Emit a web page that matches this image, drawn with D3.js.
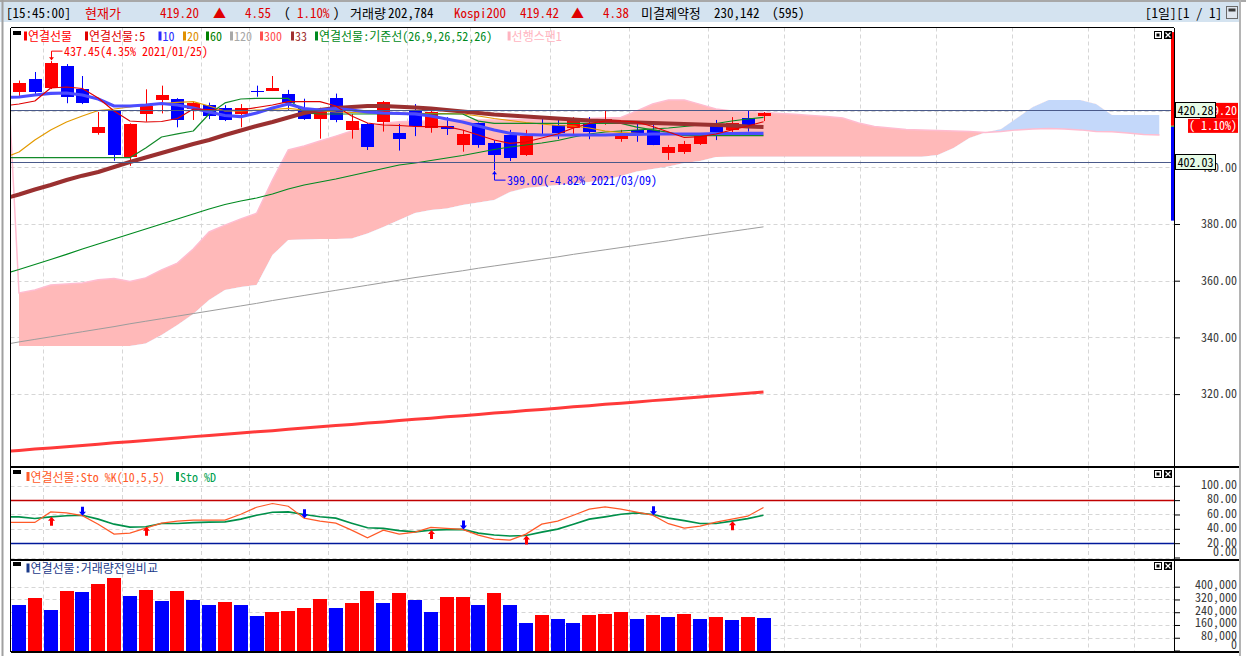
<!DOCTYPE html>
<html>
<head>
<meta charset="utf-8">
<script src="https://cdn.jsdelivr.net/npm/d3@7/dist/d3.min.js"></script>
<style>
html,body{margin:0;padding:0;background:#fff;overflow:hidden;}
svg{display:block;}
text{font-family:"Noto Sans Mono CJK KR","DejaVu Sans Mono","Noto Sans CJK KR",monospace;}
</style>
</head>
<body>
<svg id="chart" width="1246" height="656"></svg>
<script>
// ================= DATA =================
// daily candles, index 0..47
const candleOpen  = [426.67,431.15,427.97,435.73,427.6,412.2,419.9,403.5,418.9,423.7,424.1,420.8,422.0,420.9,418.9,426.9,427.0,426.0,420.9,417.0,424.4,413.1,415.3,416.0,412.0,419.9,414.0,414.6,407.9,415.6,408.6,411.4,404.3,415.8,414.9,413.8,415.6,415.6,410.0,413.2,413.2,405.0,405.5,408.2,414.9,413.2,417.4,418.1];
const candleHigh  = [430.6,433.62,437.45,436.4,432.2,419.5,420.2,415.5,427.5,428.8,424.4,423.2,422.8,421.9,422.3,428.8,432.2,427.3,424.2,421.0,426.0,418.8,415.6,423.4,415.3,422.3,420.2,417.7,413.2,415.8,409.6,413.2,413.2,417.7,417.0,417.7,417.7,419.9,413.2,415.6,414.9,407.9,409.3,412.0,416.7,417.7,419.9,419.5];
const candleLow   = [424.5,425.9,427.6,422.6,422.3,411.5,402.3,400.5,416.1,419.0,414.1,416.7,417.0,416.3,414.1,424.9,426.9,420.2,416.7,410.1,415.9,410.1,406.1,412.6,405.9,411.0,412.2,411.4,405.5,406.9,399.0,402.2,404.0,411.4,410.0,411.4,409.9,415.0,409.0,409.0,407.8,402.6,404.7,407.9,409.6,411.4,412.6,416.3];
const candleClose = [429.84,426.46,436.79,424.9,422.8,414.2,404.3,415.3,421.6,425.5,416.7,422.8,418.1,416.7,421.0,426.6,428.0,423.0,417.0,420.2,416.7,416.3,407.1,423.0,409.9,414.6,419.5,413.5,411.7,407.9,404.3,403.3,411.0,415.4,412.2,416.7,412.6,417.0,411.4,412.2,407.9,407.2,408.2,411.4,412.5,415.6,414.6,419.2];
const volume = [284000,329000,253000,373000,366000,417000,455000,341000,379000,310000,373000,316000,284000,303000,284000,215000,240000,246000,265000,322000,265000,297000,373000,297000,360000,316000,240000,335000,338000,284000,360000,284000,171000,221000,196000,171000,221000,227000,240000,196000,221000,208000,227000,196000,208000,190000,208000,202784];

// moving averages, index -1..47 (first value = day before first visible candle)
const ma5   = [421.62,422.33,423.39,427.97,428.32,427.79,424.44,419.86,416.33,415.98,416.15,417.21,420.56,420.39,420.03,420.21,421.09,421.98,423.14,423.14,423.14,421.62,418.10,415.63,414.92,414.74,414.39,414.32,414.32,413.16,411.39,409.63,408.47,408.92,410.33,411.75,413.86,415.45,416.33,416.33,415.98,414.39,412.45,410.51,410.79,411.75,413.16,414.57,416.08];
const ma10  = [424.62,424.80,425.50,426.10,426.21,425.50,424.09,421.62,421.62,421.98,422.50,421.98,420.92,419.51,418.27,417.85,419.15,420.92,422.33,420.74,420.21,420.74,420.21,419.51,419.15,418.98,418.80,418.10,417.04,415.98,414.57,413.16,411.99,411.57,411.39,411.39,411.39,411.39,411.39,411.57,411.57,411.75,411.75,411.75,411.75,411.92,411.92,411.99,411.99];
const ma20  = [403.28,405.40,409.63,413.16,415.98,418.10,420.03,420.56,421.27,421.98,422.43,422.93,423.14,421.62,419.86,419.86,420.21,420.39,420.81,420.21,419.86,419.51,419.33,419.15,419.05,419.05,419.05,418.98,418.98,418.80,418.10,417.21,416.51,415.80,415.27,414.74,414.57,413.86,412.80,412.27,411.99,411.75,411.57,411.57,411.39,411.39,411.39,411.39,411.39];
const ma60  = [362.36,363.95,365.71,367.48,369.31,371.18,372.95,374.71,376.47,378.24,380.00,381.76,383.53,385.29,386.88,388.11,389.17,390.58,392.35,393.76,394.81,395.87,397.11,398.34,399.58,400.81,401.52,402.40,403.28,404.16,405.22,406.28,407.16,407.87,408.57,409.45,410.69,411.75,412.45,412.80,413.16,413.51,413.86,414.39,414.92,415.45,416.33,417.04,417.64];
const ma120 = [337.4,338.4,339.3,340.2,341.1,342.0,342.9,343.8,344.8,345.7,346.6,347.5,348.4,349.3,350.2,351.1,352.0,353.0,353.9,354.8,355.7,356.6,357.5,358.4,359.3,360.2,361.1,361.9,362.7,363.5,364.4,365.2,366.0,366.8,367.6,368.4,369.3,370.1,370.9,371.7,372.5,373.3,374.1,375.0,375.8,376.6,377.4,378.2,379.0];
const ma300 = [299.7,300.1,300.6,301.0,301.4,301.9,302.3,302.8,303.2,303.6,304.1,304.5,305.0,305.4,305.8,306.3,306.7,307.1,307.6,308.0,308.5,308.9,309.3,309.8,310.2,310.7,311.1,311.5,312.0,312.4,312.8,313.3,313.7,314.2,314.6,315.0,315.5,315.9,316.4,316.8,317.2,317.7,318.1,318.5,319.0,319.4,319.9,320.3,320.7];
const ma33  = [388.82,390.41,392.17,393.76,395.52,397.04,398.34,400.10,401.87,403.46,405.04,406.63,408.22,409.63,411.39,412.98,414.57,415.98,417.57,419.15,420.21,420.92,421.27,421.62,421.62,421.37,421.09,420.74,420.21,419.68,419.15,418.62,418.27,417.92,417.57,417.21,416.86,416.51,416.33,415.98,415.80,415.63,415.45,415.27,415.10,414.92,414.74,414.39,414.22];
const kijun = [403.4,403.4,403.4,403.4,403.4,403.4,403.4,403.4,403.4,406.8,410.7,411.8,412.8,418.8,422.7,424.1,424.3,424.3,424.3,419.2,418.8,418.8,418.8,418.8,418.8,418.8,418.8,418.8,418.8,418.8,416.3,415.5,415.5,415.5,415.5,415.5,415.5,415.5,415.5,415.5,414.2,413.2,412.3,411.2,411.2,411.2,411.2,411.2,411.2];

// ichimoku leading spans, index -1..72 (26-day forward shift)
const spanA = [465.0,355.7,356.7,358.5,358.8,359.2,360.3,360.8,359.7,361.0,363.8,366.2,371.2,377.2,379.6,381.8,383.8,395.5,406.1,407.5,409.3,411.0,412.8,414.3,415.5,416.1,416.2,416.3,416.5,416.7,416.7,416.7,416.9,416.9,417.0,417.0,417.0,417.2,417.4,417.6,419.9,422.3,423.7,423.7,422.2,420.6,419.9,419.6,419.3,419.0,418.7,418.3,417.9,417.4,415.6,414.4,413.9,413.3,413.2,413.0,412.8,412.6,412.3,412.6,413.2,413.5,413.7,413.5,413.2,412.6,412.5,412.1,411.6,411.4];
const spanB = [336.97,336.97,336.97,336.97,336.97,336.97,336.97,336.97,336.97,337.85,340.85,344.38,348.25,353.19,356.72,357.78,358.48,369.06,374.36,374.53,374.71,374.71,374.88,376.65,378.94,381.41,383.89,384.95,385.47,386.70,387.59,388.47,391.29,392.70,393.23,393.76,394.29,394.81,395.52,396.93,398.52,399.40,400.28,401.52,402.22,403.63,403.74,403.74,403.74,403.74,403.74,403.74,403.74,403.74,403.74,403.74,403.74,403.74,403.74,404.34,406.81,410.33,412.27,413.51,417.39,421.27,423.74,423.74,423.74,422.33,418.45,418.45,418.45,418.45];

// stochastics, index -1..47
const stochK = [48.9,48.9,48.9,63.6,62.2,58.3,46.5,32.6,34.0,41.0,47.9,50.7,52.1,52.1,52.1,60.4,70.1,75.3,71.5,54.9,50.7,47.9,38.2,27.5,38.2,32.6,35.4,41.9,40.6,39.2,31.3,25.7,24.3,32.6,46.5,50.7,59.0,67.4,70.6,67.4,63.2,59.0,47.2,41.0,43.8,49.3,53.5,57.6,69.7];
const stochD = [56.7,56.7,54.4,56.7,58.3,59.0,53.5,46.5,42.4,42.8,47.5,47.5,48.6,49.3,49.7,53.5,59.0,63.2,63.6,60.0,56.9,54.9,47.9,41.4,40.6,37.5,35.8,38.2,38.9,39.2,34.0,31.3,29.9,30.6,35.4,39.6,46.5,53.5,56.7,60.4,62.2,60.0,54.9,51.4,47.5,47.5,50.7,54.2,59.0];
const buySignals  = [2, 8, 26, 32, 45];
const sellSignals = [4, 18, 28, 40];
const stochLevels = [80, 20];

// ticks / reference values
const priceTicks  = [320, 340, 360, 380, 400, 420];
const stochTicks  = [0, 20, 40, 60, 80, 100];
const volumeTicks = [0, 80000, 160000, 240000, 320000, 400000];
const gridIdx     = [1.5, 6.5, 11.5, 14.5, 19.5, 24.5, 28.5, 33.5, 38.5, 43.5, 48.3, 53.1, 57.9, 62.7, 67.5, 70.4];
const refLevels   = [420.28, 402.03];
const currentPrice = 419.20;
const changeText   = "( 1.10%)";
const rangeBar     = [447.7, 414.65, 381.2];
const highNote = {idx: 2,  value: 437.45, pct: "4.35%",  date: "2021/01/25"};
const lowNote  = {idx: 30, value: 399.00, pct: "-4.82%", date: "2021/03/09"};

// texts
const headerTexts  = ["[15:45:00]","현재가","419.20","▲","4.55","(","1.10%",")","거래량","202,784","Kospi200","419.42","▲","4.38","미결제약정","230,142","(595)","[1일][1 / 1]"];
const headerColors = ["#000","#e00000","#e00000","#e00000","#e00000","#000","#e00000","#000","#000","#000","#e00000","#e00000","#e00000","#e00000","#000","#000","#000","#000"];
const mainLegend   = ["연결선물","연결선물:5","10","20","60","120","300","33","연결선물:기준선(26,9,26,52,26)","선행스팬1"];
const mainLegendColors = ["#ff0000","#e00000","#2a2aff","#e09000","#008000","#a8a8a8","#ff5050","#a03030","#008a20","#ffb4c0"];
const stochLegend  = ["연결선물:Sto %K(10,5,5)","Sto %D"];
const stochLegendColors = ["#ff5a28","#00a050"];
const volLegend    = ["연결선물:거래량전일비교"];
const volLegendColors = ["#1a3a8a"];

// ================= LAYOUT =================
const headerX = [6,85,160,213,245,284,297,333,350,388,454,520,571,603,641,714,772,1145];
const mainLegendX = [24,85,158.5,183,206,230,260,291,315,507.6];
const PL = 10.5, PR = 1174;       // plot left / axis x
const mainTop = 27.5, mainBot = 467;
const stTop = 467, stBot = 559.5;
const vTop = 559.5, vBot = 651.5;

const svg = d3.select("#chart");
const xS = d3.scaleLinear().domain([0, 47]).range([19, 763.5]);
const yP = d3.scaleLinear().domain([380, 320]).range([224, 394.1]);
const yS = d3.scaleLinear().domain([0, 100]).range([557.5, 485.8]);
const yV = d3.scaleLinear().domain([0, 400000]).range([650.5, 586.7]);
const RED = "#ff0000", BLUE = "#0000ff";

// ---------- frame ----------
svg.append("rect").attr("width",1246).attr("height",656).attr("fill","#fff");
svg.append("rect").attr("x",0).attr("y",0).attr("width",1240).attr("height",22).attr("fill","#d4e3f0");
svg.append("rect").attr("x",0).attr("y",0).attr("width",1246).attr("height",2).attr("fill","#a8a8a8");
svg.append("rect").attr("x",1.5).attr("y",0).attr("width",2).attr("height",656).attr("fill","#a0a0a0");
svg.append("rect").attr("x",1239).attr("y",0).attr("width",2).attr("height",656).attr("fill","#b4b4b4");

// header text
headerTexts.forEach((t,i)=>{
  svg.append("text").attr("x",headerX[i]).attr("y",18).attr("font-size",13)
    .attr("fill",headerColors[i]).text(t);
});
// header window icon
svg.append("rect").attr("x",1226.5).attr("y",6.5).attr("width",11).attr("height",12).attr("fill","#dfe6ee").attr("stroke","#6a6a6a");
svg.append("rect").attr("x",1228.5).attr("y",8.5).attr("width",7).attr("height",3).attr("fill","#3a3a3a");

// clip paths
const defs = svg.append("defs");
defs.append("clipPath").attr("id","cMain").append("rect").attr("x",PL+0.5).attr("y",mainTop).attr("width",PR-PL-0.5).attr("height",mainBot-mainTop);
defs.append("clipPath").attr("id","cSt").append("rect").attr("x",PL+0.5).attr("y",stTop).attr("width",PR-PL-0.5).attr("height",stBot-stTop);

// ---------- grids ----------
function vGrid(y0,y1){
  svg.append("g").selectAll("line").data(gridIdx).join("line")
    .attr("x1",d=>Math.round(xS(d))+0.5).attr("x2",d=>Math.round(xS(d))+0.5)
    .attr("y1",y0).attr("y2",y1).attr("stroke","#d6d6d6").attr("stroke-dasharray","4,3");
}
function hGrid(vals,scale){
  svg.append("g").selectAll("line").data(vals).join("line")
    .attr("x1",PL).attr("x2",PR).attr("y1",d=>Math.round(scale(d))+0.5).attr("y2",d=>Math.round(scale(d))+0.5)
    .attr("stroke","#d6d6d6").attr("stroke-dasharray","4,3");
}
vGrid(mainTop,mainBot); hGrid(priceTicks,yP);
vGrid(stTop,stBot); hGrid(stochTicks,yS);
vGrid(vTop,vBot); hGrid(volumeTicks.slice(1),yV);

// ---------- main panel ----------
const gMain = svg.append("g").attr("clip-path","url(#cMain)");
const cloudIdx = d3.range(0, spanA.length-1); // indices 0..72
const aOf = i => spanA[i+1], bOf = i => spanB[i+1];
defs.append("clipPath").attr("id","cAbove").append("path")
  .attr("d", d3.area().x(i=>xS(i)).y0(0).y1(i=>yP(bOf(i)))(cloudIdx));
defs.append("clipPath").attr("id","cBelow").append("path")
  .attr("d", d3.area().x(i=>xS(i)).y0(i=>yP(bOf(i))).y1(700)(cloudIdx));
const cloudArea = d3.area().x(i=>xS(i)).y0(i=>yP(aOf(i))).y1(i=>yP(bOf(i)));
gMain.append("path").attr("d",cloudArea(cloudIdx)).attr("fill","#ffb9b9").attr("clip-path","url(#cAbove)");
gMain.append("path").attr("d",cloudArea(cloudIdx)).attr("fill","#c4d8fa").attr("clip-path","url(#cBelow)");
const lineFrom = d3.line().x((d,i)=>xS(i-1)).y(d=>yP(d));
gMain.append("path").attr("d",lineFrom(spanA)).attr("fill","none").attr("stroke","#ffbcd0").attr("stroke-width",1.5);

// candles
const cIdx = d3.range(candleOpen.length);
const cx = i => Math.round(xS(i));
const upC = i => candleClose[i] >= candleOpen[i];
gMain.append("g").selectAll("line").data(cIdx).join("line")
  .attr("x1",i=>cx(i)+0.5).attr("x2",i=>cx(i)+0.5)
  .attr("y1",i=>yP(candleHigh[i])).attr("y2",i=>yP(candleLow[i]))
  .attr("stroke",i=>upC(i)?RED:BLUE).attr("stroke-width",1);
gMain.append("g").selectAll("rect").data(cIdx).join("rect")
  .attr("x",i=>cx(i)-6).attr("width",13)
  .attr("y",i=>Math.round(yP(Math.max(candleOpen[i],candleClose[i]))))
  .attr("height",i=>Math.max(1,Math.round(Math.abs(yP(candleOpen[i])-yP(candleClose[i])))))
  .attr("fill",i=>upC(i)?RED:BLUE).attr("shape-rendering","crispEdges");

// moving averages
const maDefs = [
  [ma300,"#ff3a3a",3],
  [ma120,"#9c9c9c",1],
  [ma60,"#008a20",1.2],
  [ma20,"#e39a00",1.2],
  [kijun,"#138a2a",1.2],
  [ma33,"#9a3030",4],
  [ma10,"#4c4cff",3.2],
  [ma5,"#e00000",1.2]
];
maDefs.forEach(([arr,col,w])=>{
  gMain.append("path").attr("d",lineFrom(arr)).attr("fill","none")
    .attr("stroke",col).attr("stroke-width",w).attr("stroke-linejoin","round");
});

// reference lines
gMain.append("g").selectAll("line").data(refLevels).join("line")
  .attr("x1",PL).attr("x2",PR).attr("y1",d=>Math.round(yP(d))+0.5).attr("y2",d=>Math.round(yP(d))+0.5)
  .attr("stroke","#4a5a8a").attr("stroke-width",1);

// range bar at right edge
svg.append("rect").attr("x",PR-3).attr("width",3).attr("y",yP(rangeBar[0])).attr("height",yP(rangeBar[1])-yP(rangeBar[0])).attr("fill",RED);
svg.append("rect").attr("x",PR-3).attr("width",3).attr("y",yP(rangeBar[1])+1).attr("height",yP(rangeBar[2])-yP(rangeBar[1])-1).attr("fill",BLUE);
svg.append("rect").attr("x",PR-3).attr("width",3).attr("y",yP(rangeBar[1])).attr("height",1).attr("fill","#20a020");

// high / low annotations
(function(){
  const hx = Math.round(xS(highNote.idx))+0.5, hy = yP(highNote.value)-1;
  const g = svg.append("g");
  g.append("path").attr("d",`M${hx},${hy-9}L${hx},${hy}M${hx},${hy-9}L${hx+11},${hy-9}`).attr("stroke",RED).attr("fill","none");
  g.append("path").attr("d",`M${hx-2.5},${hy-3}L${hx+2.5},${hy-3}L${hx},${hy}Z`).attr("fill",RED);
  g.append("text").attr("x",hx+12.5).attr("y",hy-4.5).attr("font-size",12).attr("fill",RED)
    .text(`${highNote.value.toFixed(2)}(${highNote.pct} ${highNote.date})`);
  const lx = Math.round(xS(lowNote.idx))+0.5, ly = yP(lowNote.value)+1;
  g.append("path").attr("d",`M${lx},${ly}L${lx},${ly+9}L${lx+11},${ly+9}`).attr("stroke",BLUE).attr("fill","none");
  g.append("path").attr("d",`M${lx-2.5},${ly+3}L${lx+2.5},${ly+3}L${lx},${ly}Z`).attr("fill",BLUE);
  g.append("text").attr("x",lx+12.5).attr("y",ly+13.5).attr("font-size",12).attr("fill",BLUE)
    .text(`${lowNote.value.toFixed(2)}(${lowNote.pct} ${lowNote.date})`);
})();

// ---------- stochastic panel ----------
const gSt = svg.append("g").attr("clip-path","url(#cSt)");
gSt.append("g").selectAll("line").data(stochLevels).join("line")
  .attr("x1",PL).attr("x2",PR).attr("y1",d=>Math.round(yS(d))+0.5).attr("y2",d=>Math.round(yS(d))+0.5)
  .attr("stroke",d=>d>50?"#c00000":"#00189a").attr("stroke-width",1.5);
const stLine = d3.line().x((d,i)=>xS(i-1)).y(d=>yS(d));
gSt.append("path").attr("d",stLine(stochD)).attr("fill","none").attr("stroke","#00904a").attr("stroke-width",1.6);
gSt.append("path").attr("d",stLine(stochK)).attr("fill","none").attr("stroke","#ff5a28").attr("stroke-width",1.2);
buySignals.forEach(i=>{
  const x0 = Math.round(xS(i))+0.5, t = yS(stochD[i+1]);
  gSt.append("path").attr("d",`M${x0},${t}L${x0+3.5},${t+4}L${x0+1.5},${t+4}L${x0+1.5},${t+9}L${x0-1.5},${t+9}L${x0-1.5},${t+4}L${x0-3.5},${t+4}Z`).attr("fill",RED);
});
sellSignals.forEach(i=>{
  const x0 = Math.round(xS(i))+0.5, t = Math.max(yS(stochD[i+1]),yS(stochK[i+1]));
  gSt.append("path").attr("d",`M${x0},${t}L${x0+3.5},${t-4}L${x0+1.5},${t-4}L${x0+1.5},${t-9}L${x0-1.5},${t-9}L${x0-1.5},${t-4}L${x0-3.5},${t-4}Z`).attr("fill",BLUE);
});

// ---------- volume panel ----------
svg.append("g").selectAll("rect").data(d3.range(volume.length)).join("rect")
  .attr("x",i=>cx(i)-7).attr("width",14)
  .attr("y",i=>Math.round(yV(volume[i]))).attr("height",i=>vBot-Math.round(yV(volume[i])))
  .attr("fill",i=>(i>0 && volume[i]>volume[i-1])?RED:BLUE).attr("shape-rendering","crispEdges");

// ---------- borders ----------
const B = svg.append("g").attr("stroke","#000").attr("shape-rendering","crispEdges");
B.append("line").attr("x1",PL).attr("x2",PR).attr("y1",mainTop).attr("y2",mainTop).attr("stroke-width",1.5);
B.append("line").attr("x1",PL).attr("x2",PL).attr("y1",mainTop).attr("y2",vBot).attr("stroke-width",1.5);
B.append("line").attr("x1",PR+0.5).attr("x2",PR+0.5).attr("y1",mainTop).attr("y2",vBot).attr("stroke-width",1.5);
[stTop, vTop, vBot].forEach(y=>B.append("line").attr("x1",PL).attr("x2",1239).attr("y1",y).attr("y2",y).attr("stroke-width",2));

// ---------- axes ----------
function rightAxis(scale, ticks, fmt, adjust){
  const g = svg.append("g").attr("transform",`translate(${PR+1},0)`)
    .call(d3.axisRight(scale).tickValues(ticks).tickSize(5).tickFormat(fmt));
  g.attr("font-size",12).attr("font-family",null);
  g.select(".domain").remove();
  g.selectAll(".tick line").attr("stroke","#000");
  g.selectAll(".tick text").attr("x",62).attr("text-anchor","end").attr("fill","#3a3a3a")
    .attr("y",adjust);
  return g;
}
rightAxis(yP, priceTicks, d3.format(".2f"), 0);
rightAxis(yS, stochTicks, d3.format(".2f"), d=>d===0?-5.5:-1);
rightAxis(yV, volumeTicks, d3.format(","), d=>d===0?-5.5:-2);

// price boxes
(function(){
  const g = svg.append("g");
  const cy = yP(currentPrice)-2;
  g.append("rect").attr("x",1200).attr("y",cy-8).attr("width",38).attr("height",16).attr("fill",RED);
  g.append("text").attr("x",1237).attr("y",cy+4.5).attr("text-anchor","end").attr("font-size",12).attr("fill","#fff").text(currentPrice.toFixed(2));
  g.append("rect").attr("x",1188).attr("y",cy+8).attr("width",50).attr("height",14).attr("fill",RED);
  g.append("text").attr("x",1237).attr("y",cy+19.5).attr("text-anchor","end").attr("font-size",12).attr("fill","#fff").text(changeText);
  refLevels.forEach(v=>{
    const y = yP(v);
    g.append("rect").attr("x",1175.5).attr("y",Math.round(y)-7.5).attr("width",40).attr("height",15)
      .attr("fill","#e6fbe6").attr("stroke","#000");
    g.append("text").attr("x",1195.5).attr("y",Math.round(y)+4.5).attr("text-anchor","middle").attr("font-size",12).attr("fill","#000").text(v.toFixed(2));
  });
})();

// ---------- legends ----------
function panelIcons(y){
  svg.append("rect").attr("x",13).attr("y",y).attr("width",8).attr("height",4).attr("fill","#000");
  svg.append("rect").attr("x",1154.5).attr("y",y+0.5).attr("width",7).attr("height",7).attr("fill","#fff").attr("stroke","#000");
  svg.append("rect").attr("x",1156.5).attr("y",y+2.5).attr("width",3).attr("height",3).attr("fill","#000");
  svg.append("rect").attr("x",1164).attr("y",y).attr("width",8).attr("height",8).attr("fill","#000");
  svg.append("path").attr("d",`M${1165.5},${y+1.5}L${1170.5},${y+6.5}M${1170.5},${y+1.5}L${1165.5},${y+6.5}`).attr("stroke","#fff").attr("stroke-width",1.2);
}
panelIcons(31); panelIcons(470); panelIcons(562);

function legend(items, colors, xs, baseY){
  items.forEach((t,i)=>{
    svg.append("rect").attr("x",xs[i]).attr("y",baseY-9.5).attr("width",3).attr("height",9).attr("fill",colors[i]);
    svg.append("text").attr("x",xs[i]+4).attr("y",baseY).attr("font-size",12).attr("fill",colors[i]).text(t);
  });
}
legend(mainLegend, mainLegendColors, mainLegendX, 41);
legend(stochLegend, stochLegendColors, [26.5,176], 481.5);
legend(volLegend, volLegendColors, [26.5], 573);
</script>
</body>
</html>
